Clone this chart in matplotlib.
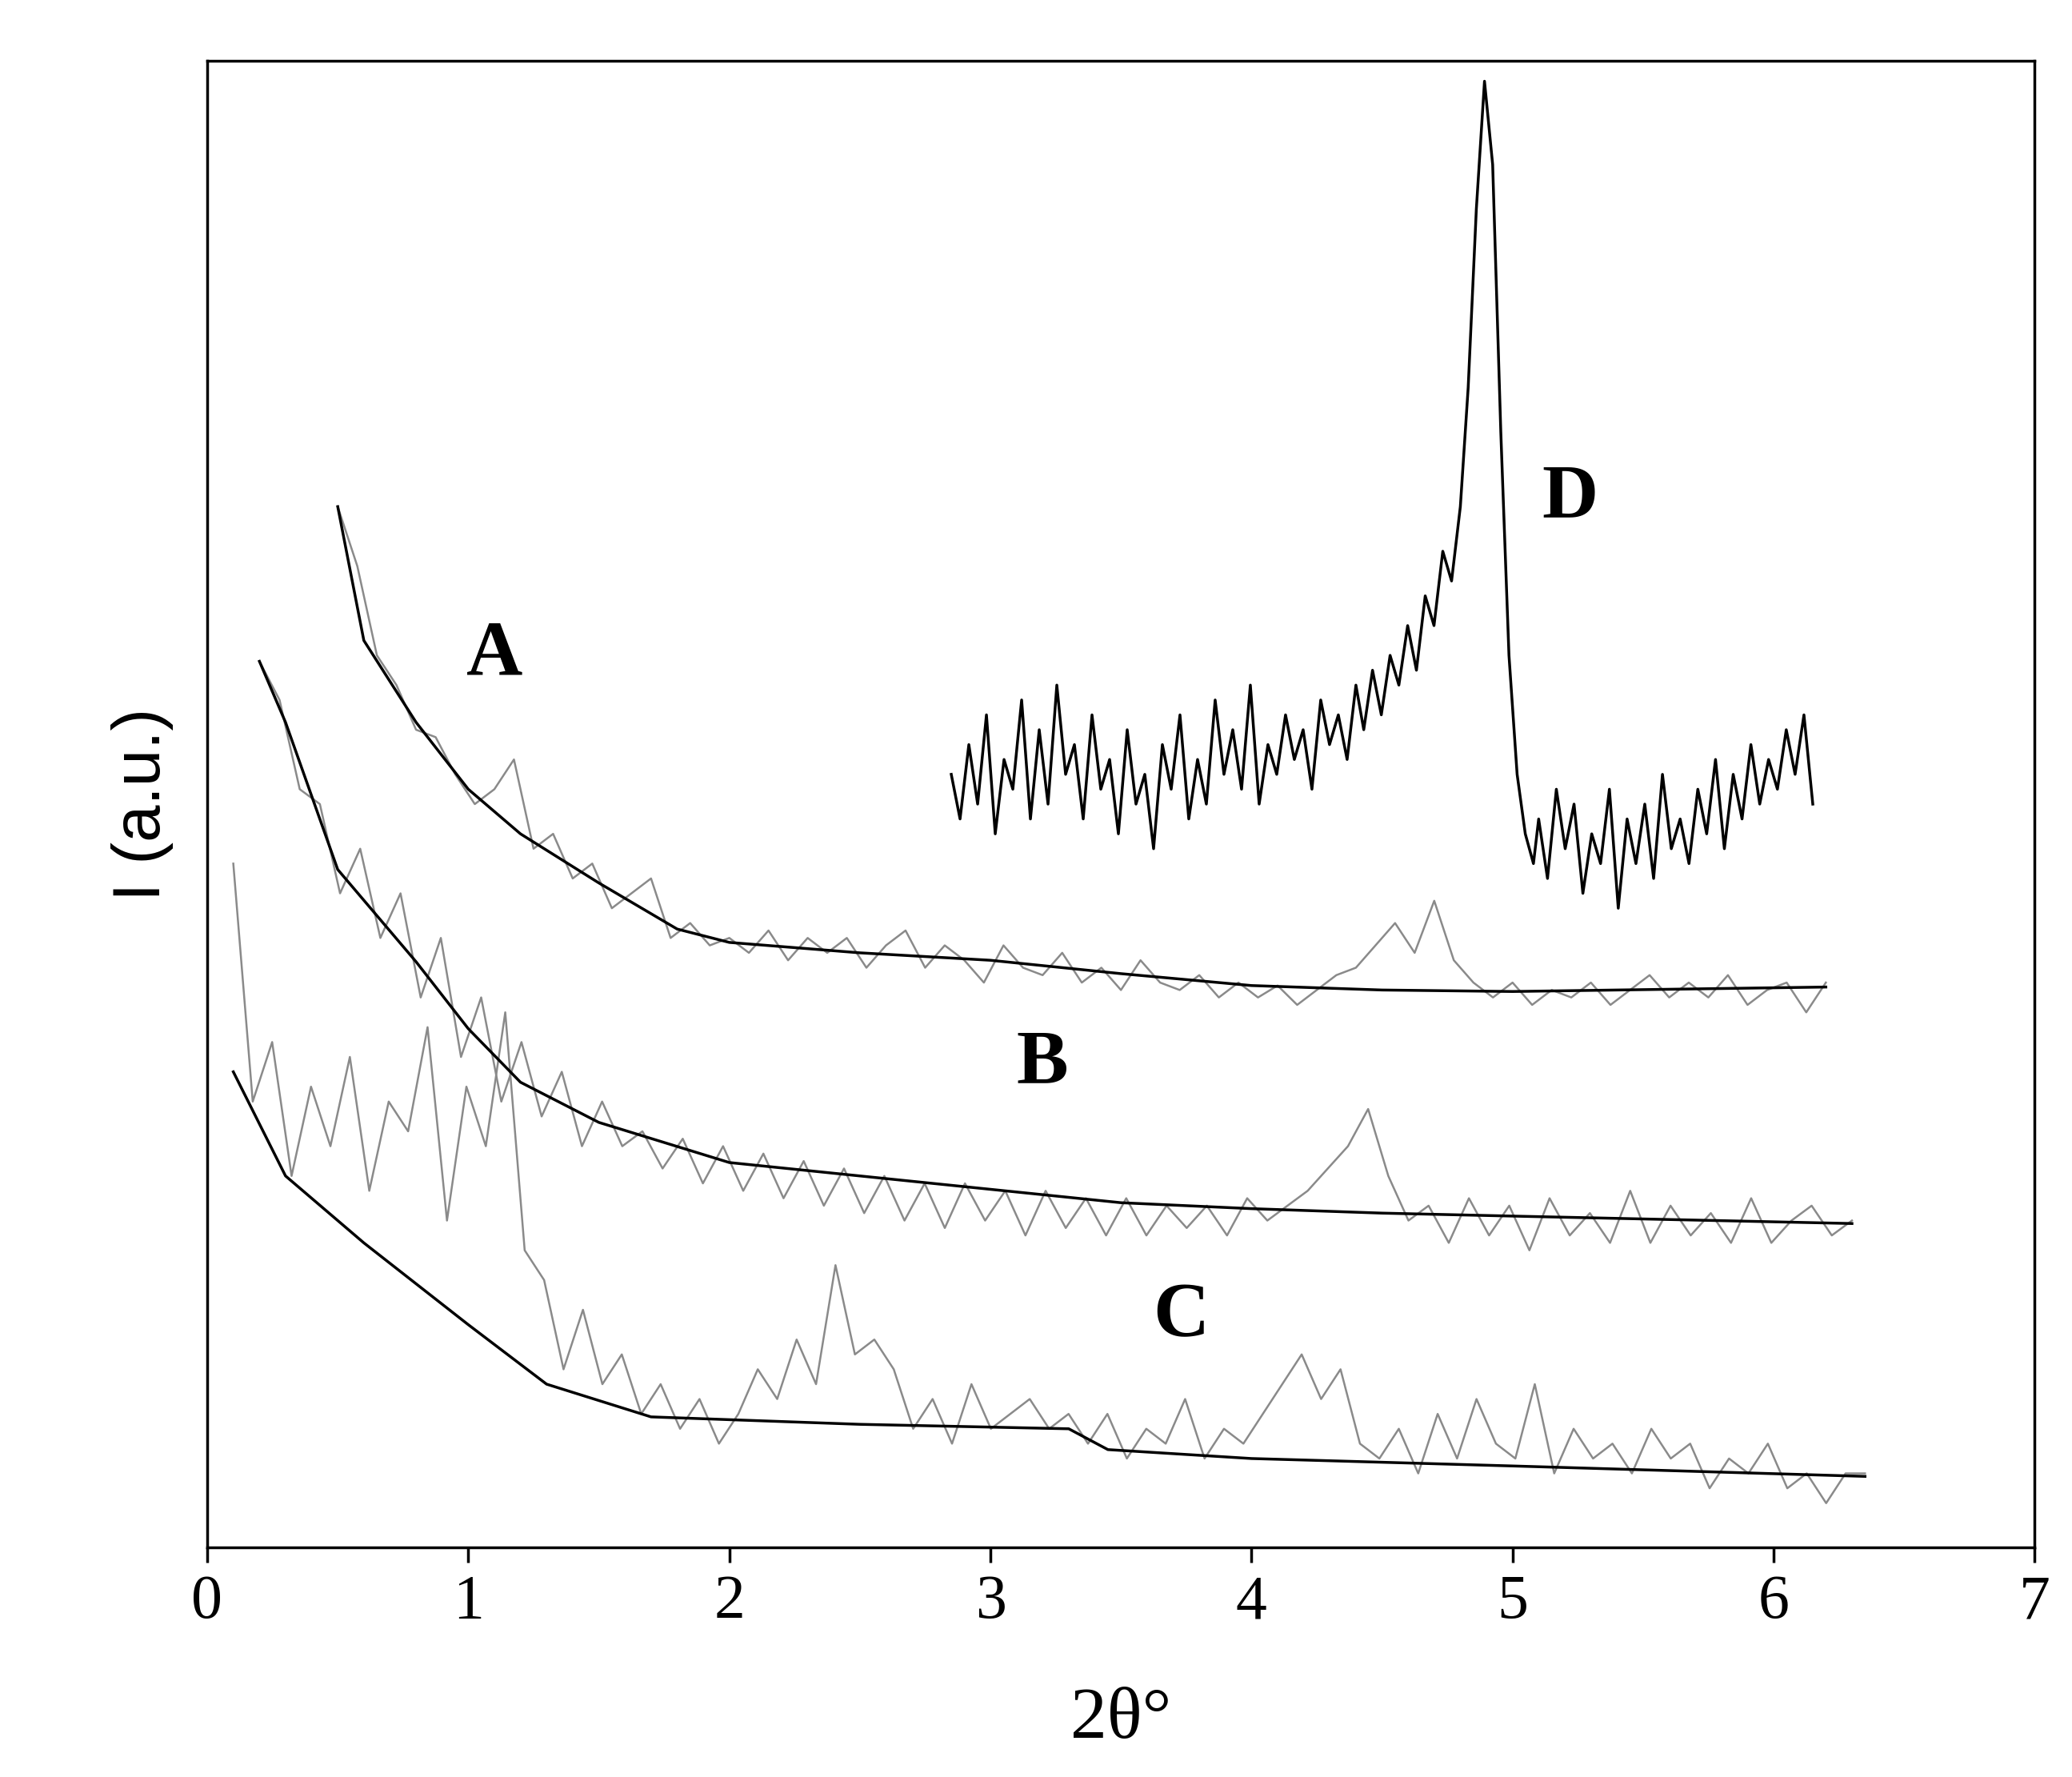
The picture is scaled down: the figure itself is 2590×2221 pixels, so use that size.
import numpy as np
import matplotlib
matplotlib.use("Agg")
import matplotlib.pyplot as plt

# noisy traces (intensity, a.u.)
yA = [70,66,60,58,55,54.5,52,50,51,53,47,48,45,46,43,44,45,41,42,40.5,41,40,41.5,39.5,41,40,41,39,40.5,41.5,39,40.5,39.5,38,40.5,39,38.5,40,38,39,37.5,39.5,38,37.5,38.5,37,38,37,37.8,36.5,37.5,38.5,39,40.5,42,40,43.5,39.5,38,37,38,36.5,37.5,37,38,36.5,37.5,38.5,37,38,37,38.5,36.5,37.5,38,36,38]
yB = [59.6,57,51,50,44,47,41,44,37,41,
      33,37,30,34,29,32,27,30,27,28,
      25.5,27.5,24.5,27,24,26.5,23.5,26,23,25.5,
      22.5,25,22,24.5,21.5,24.5,22,24,21,24,
      21.5,23.5,21,23.5,21,23,21.5,23,21,23.5,
      22,23,24,25.5,27,29.5,25,22,23,20.5,
      23.5,21,23,20,23.5,21,22.5,20.5,24,20.5,
      23,21,22.5,20.5,23.5,20.5,22,23,21,22]
yC = [46,30,34,25,31,27,33,24,30,28,35,22,31,27,36,20,
      18,12,16,11,13,9,11,
      8,10,7,9,
      12,10,14,11,19,13,14,12,
      8,10,7,11,8,9,10,8,9,7,
      9,6,8,7,10,6,8,7,
      9,11,13,10,12,
      7,6,8,5,9,6,10,7,6,11,5,8,6,7,5,8,6,7,4,6,5,7,4,5,3,5,5]
yD = [52,49,54,50,56,48,53,51,57,49,55,50,58,52,54,49,56,51,53,48,55,50,52,47,54,51,56,49,53,50,57,52,55,51,58,50,54,52,56,53,55,51,57,54,56,53,58,
      55,59,56,60,58,62,59,64,62,67,65,70,
      78,90,98.6,93,75,60,52,48,46,
      49,45,51,47,50,44,48,46,51,43,49,46,50,45,52,47,49,46,51,48,53,47,52,49,54,50,53,51,55,52,56,50]
rangeA = (0.5, 6.2); rangeB = (0.2, 6.3); rangeC = (0.1, 6.35)
segD = [(2.85, 4.4, 47), (4.43, 4.8, 12), (4.83, 5.08, 9), (5.1, 6.15, 32)]

# smooth fitted lines
sAx = [0.5,0.6,0.8,1.0,1.2,1.5,1.8,2.0,2.5,3.0,3.5,4.0,4.5,5.0,6.2]
sAy = [70,61,55.5,51,48,44.7,41.6,40.7,40,39.5,38.6,37.8,37.5,37.4,37.7]
sBx = [0.2,0.3,0.5,0.8,1.0,1.2,1.5,2.0,2.5,3.0,3.5,4.0,4.5,5.0,6.3]
sBy = [59.6,55.5,45.6,39.4,34.9,31.3,28.6,25.9,25,24.1,23.2,22.8,22.5,22.3,21.8]
sCx = [0.1,0.3,0.6,1.0,1.3,1.7,2.5,3.3,3.45,4.0,5.0,6.35]
sCy = [32,25,20.5,15,11,8.8,8.3,8,6.6,6,5.5,4.8]

labels = ["A", "B", "C", "D"]
label_pos = [(1.1, 60), (3.2, 32.5), (3.73, 15.5), (5.22, 70.5)]

fig = plt.figure(figsize=(25.9, 22.21), dpi=100)
ax = fig.add_axes([0.1, 0.129, 0.882, 0.837])

for y, (a, b) in [(yA, rangeA), (yB, rangeB), (yC, rangeC)]:
    ax.plot(np.linspace(a, b, len(y)), y, color="#8a8a8a", lw=1.8)
for sx, sy in [(sAx, sAy), (sBx, sBy), (sCx, sCy)]:
    ax.plot(sx, sy, color="black", lw=2.5)
xD = np.concatenate([np.linspace(a, b, n) for a, b, n in segD])
ax.plot(xD, yD, color="black", lw=2.5)

for t, (x, y) in zip(labels, label_pos):
    ax.text(x, y, t, fontsize=70, fontweight="bold", family="Liberation Serif", ha="center", va="center")

ax.set_xlim(0, 7)
ax.set_ylim(0, 100)
ax.set_xticks(range(8))
ax.set_yticks([])
ax.tick_params(axis="x", direction="out", length=14, width=2.5, labelsize=56, pad=10)
for lab in ax.get_xticklabels():
    lab.set_family("Liberation Serif")
for s in ax.spines.values():
    s.set_linewidth(2.5)
ax.set_xlabel("2θ°", fontsize=66, family="Liberation Serif", labelpad=50)
ax.set_ylabel("I (a.u.)", fontsize=60, family="Liberation Sans", labelpad=30)
fig.savefig("out.png", dpi=100)
